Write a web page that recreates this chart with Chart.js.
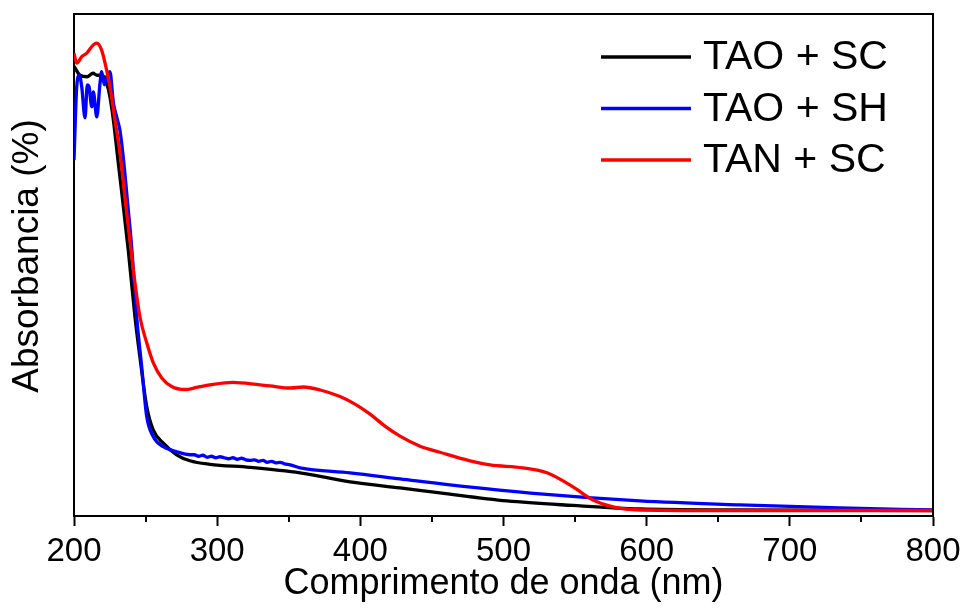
<!DOCTYPE html>
<html>
<head>
<meta charset="utf-8">
<script src="https://cdn.jsdelivr.net/npm/chart.js@4/dist/chart.umd.min.js"></script>
<style>
  html, body { margin: 0; padding: 0; background: #fff; }
  canvas { display: block; }
</style>
</head>
<body>
<canvas id="uv" width="964" height="612"></canvas>
<script>
// UV-Vis absorbance spectra (arbitrary units, 0 = baseline, 1 = top of frame)
const seriesNames = ['TAO + SC', 'TAO + SH', 'TAN + SC'];
const seriesColors = ['#000000', '#0000ff', '#ff0000'];
const yTitle = 'Absorbancia (%)';
const xTitle = 'Comprimento de onda (nm)';

// TAO + SC
const scNm  = [200, 204.2, 209.1, 213.3, 216.1, 219.6, 222.8, 225.1, 227.5, 230.7, 237.9, 242.6, 246.1, 250.8, 255.4, 262.4, 271.7, 281, 295, 322.9, 357.9, 392.8, 427.7, 455.6, 502.4, 548.5, 595.3, 665.2, 800];
const scAbs = [0.896, 0.878, 0.875, 0.882, 0.878, 0.878, 0.862, 0.835, 0.789, 0.709, 0.530, 0.396, 0.315, 0.218, 0.171, 0.145, 0.122, 0.110, 0.103, 0.097, 0.086, 0.068, 0.056, 0.046, 0.030, 0.021, 0.014, 0.012, 0.011];

// TAO + SH
const shNm  = [200, 201.9, 203.7, 205.4, 207.7, 209.3, 210.5, 212.4, 213.5, 215.9, 218.2, 219.3, 221.2, 222.8, 225.1, 227.5, 229.8, 232.1, 234.4, 237.7, 240.3, 243.8, 247.3, 250.8, 255.4, 262.4, 271.7, 281, 284, 287, 290, 293, 296, 299, 302, 305, 308, 311, 314, 317, 320, 323, 326, 329, 332, 335, 338, 341, 344, 347, 351, 357.9, 392.8, 427.7, 462.6, 525.5, 595.3, 665.2, 735, 800];
const shAbs = [0.709, 0.855, 0.878, 0.855, 0.793, 0.859, 0.855, 0.815, 0.845, 0.795, 0.863, 0.885, 0.859, 0.875, 0.885, 0.823, 0.795, 0.768, 0.715, 0.616, 0.535, 0.396, 0.297, 0.198, 0.158, 0.138, 0.128, 0.122, 0.122, 0.119, 0.121, 0.117, 0.119, 0.116, 0.118, 0.116, 0.114, 0.116, 0.113, 0.115, 0.112, 0.111, 0.112, 0.109, 0.111, 0.107, 0.109, 0.106, 0.107, 0.104, 0.102, 0.096, 0.086, 0.074, 0.062, 0.044, 0.030, 0.022, 0.016, 0.012];

// TAN + SC
const tanNm  = [200, 201.9, 205.4, 208.9, 213.3, 215.9, 219.3, 222.8, 225.1, 228.6, 232.1, 236.8, 239.1, 242.6, 246.1, 250.8, 255.4, 261.3, 268.2, 277.5, 285.7, 295, 311.1, 329.9, 336.9, 350.9, 360.2, 372, 385.8, 396.3, 406.8, 417.2, 427.7, 441.7, 455.6, 476.6, 490.6, 513.6, 530.4, 548.5, 562.5, 576.5, 595.3, 665.2, 800];
const tanAbs = [0.922, 0.902, 0.915, 0.922, 0.938, 0.942, 0.928, 0.888, 0.855, 0.789, 0.723, 0.604, 0.548, 0.464, 0.396, 0.345, 0.305, 0.275, 0.258, 0.252, 0.256, 0.261, 0.266, 0.261, 0.259, 0.255, 0.257, 0.251, 0.238, 0.223, 0.203, 0.179, 0.159, 0.139, 0.127, 0.110, 0.102, 0.096, 0.086, 0.058, 0.032, 0.018, 0.012, 0.011, 0.011];

// Axis ticks
const majorTicks = [200, 300, 400, 500, 600, 700, 800];
const minorTicks = [250, 350, 450, 550, 650, 750];

const FONT = '"Liberation Sans", Arial, Helvetica, sans-serif';

function pairs(xs, ys) { return xs.map((x, i) => ({ x: x, y: ys[i] })); }

const seriesData = [pairs(scNm, scAbs), pairs(shNm, shAbs), pairs(tanNm, tanAbs)];
const drawOrder = [2, 1, 0]; // red on top, then blue, then black

// Top and right edges of the plot frame
const framePlugin = {
  id: 'frame',
  afterDraw(chart) {
    const { ctx, chartArea: a } = chart;
    ctx.save();
    ctx.strokeStyle = '#000';
    ctx.lineWidth = 2;
    ctx.beginPath();
    ctx.moveTo(a.left, a.top);
    ctx.lineTo(a.right, a.top);
    ctx.lineTo(a.right, a.bottom);
    ctx.stroke();
    ctx.restore();
  }
};

// Short unlabeled ticks between the labeled ones
const minorTickPlugin = {
  id: 'minorTicks',
  afterDraw(chart) {
    const { ctx } = chart;
    const xs = chart.scales.x;
    const y0 = chart.chartArea.bottom;
    ctx.save();
    ctx.strokeStyle = '#000';
    ctx.lineWidth = 2;
    minorTicks.forEach(v => {
      const px = Math.round(xs.getPixelForValue(v));
      ctx.beginPath();
      ctx.moveTo(px, y0);
      ctx.lineTo(px, y0 + 6);
      ctx.stroke();
    });
    ctx.restore();
  }
};

// Vertical axis title, set slightly above the middle of the frame
const yTitlePlugin = {
  id: 'yTitle',
  afterDraw(chart) {
    const { ctx, chartArea: a } = chart;
    ctx.save();
    ctx.translate(a.left - 46, (a.top + a.bottom) / 2 - 9);
    ctx.rotate(-Math.PI / 2);
    ctx.font = '37px ' + FONT;
    ctx.fillStyle = '#000';
    ctx.textAlign = 'center';
    ctx.textBaseline = 'middle';
    ctx.fillText(yTitle, 0, 0);
    ctx.restore();
  }
};

// Legend in the upper right corner of the plot
const legendPlugin = {
  id: 'cornerLegend',
  afterDraw(chart) {
    const { ctx, chartArea: a } = chart;
    const lineX0 = a.right - 332;
    const lineX1 = a.right - 242;
    const textX = a.right - 230;
    const rowY0 = a.top + 43;
    const rowStep = 51.5;
    ctx.save();
    ctx.font = '41px ' + FONT;
    ctx.textBaseline = 'middle';
    ctx.textAlign = 'left';
    chart.data.datasets.forEach((ds, i) => {
      const y = rowY0 + i * rowStep;
      ctx.strokeStyle = ds.borderColor;
      ctx.lineWidth = 3.3;
      ctx.beginPath();
      ctx.moveTo(lineX0, y);
      ctx.lineTo(lineX1, y);
      ctx.stroke();
      ctx.fillStyle = '#000';
      ctx.fillText(ds.label, textX, y + 1);
    });
    ctx.restore();
  }
};

new Chart(document.getElementById('uv'), {
  type: 'line',
  data: {
    datasets: seriesNames.map((name, i) => ({
      label: name,
      data: seriesData[i],
      borderColor: seriesColors[i],
      backgroundColor: seriesColors[i],
      borderWidth: 3.3,
      pointRadius: 0,
      fill: false,
      cubicInterpolationMode: 'monotone',
      order: drawOrder[i]
    }))
  },
  options: {
    responsive: false,
    animation: false,
    devicePixelRatio: 1,
    layout: { padding: { left: 0, top: 14, right: 31, bottom: 0 } },
    plugins: {
      legend: { display: false },
      tooltip: { enabled: false }
    },
    scales: {
      x: {
        type: 'linear',
        min: 200,
        max: 800,
        afterBuildTicks(scale) {
          scale.ticks = majorTicks.map(v => ({ value: v }));
        },
        afterFit(scale) {
          scale.height = 96;
          // let the outer layout padding alone decide the frame's right edge
          scale.paddingLeft = 0;
          scale.paddingRight = 0;
        },
        ticks: {
          color: '#000',
          font: { family: FONT, size: 33 },
          padding: 6,
          maxRotation: 0,
          autoSkip: false
        },
        grid: {
          drawOnChartArea: false,
          drawTicks: true,
          tickLength: 10,
          tickWidth: 2,
          tickColor: '#000'
        },
        border: { display: true, color: '#000', width: 2 },
        title: {
          display: true,
          text: xTitle,
          color: '#000',
          font: { family: FONT, size: 36 },
          padding: { top: 0, bottom: 6 }
        }
      },
      y: {
        type: 'linear',
        min: 0,
        max: 1,
        afterFit(scale) { scale.width = 74; },
        ticks: { display: false },
        grid: { display: false, drawTicks: false },
        border: { display: true, color: '#000', width: 2 },
        title: { display: false }
      }
    }
  },
  plugins: [framePlugin, minorTickPlugin, yTitlePlugin, legendPlugin]
});
</script>
</body>
</html>
